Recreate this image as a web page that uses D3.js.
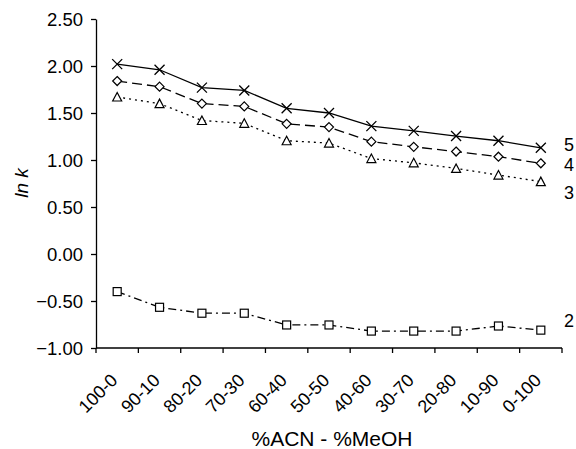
<!DOCTYPE html>
<html>
<head>
<meta charset="utf-8">
<script src="https://cdn.jsdelivr.net/npm/d3@7"></script>
<style>
  html, body { margin: 0; padding: 0; background: #fff; }
  svg { display: block; }
  text { font-family: Arial, "Liberation Sans", sans-serif; fill: #000; }
</style>
</head>
<body>
<svg id="chart" width="576" height="449"></svg>
<script>
// Mobile phase composition (%ACN - %MeOH)
const categories = ["100-0", "90-10", "80-20", "70-30", "60-40", "50-50", "40-60", "30-70", "20-80", "10-90", "0-100"];

// ln k for each solute
const series5 = [2.02, 1.96, 1.77, 1.74, 1.55, 1.50, 1.36, 1.31, 1.255, 1.205, 1.13];
const series4 = [1.84, 1.78, 1.60, 1.57, 1.385, 1.35, 1.195, 1.14, 1.09, 1.035, 0.965];
const series3 = [1.67, 1.60, 1.42, 1.39, 1.205, 1.18, 1.015, 0.97, 0.91, 0.84, 0.77];
const series2 = [-0.40, -0.567, -0.63, -0.63, -0.755, -0.755, -0.82, -0.82, -0.82, -0.766, -0.81];

const seriesNames = ["5", "4", "3", "2"];
const yTicks = [-1.0, -0.5, 0.0, 0.5, 1.0, 1.5, 2.0, 2.5];

const svg = d3.select("#chart");
const plotLeft = 96, plotRight = 562, plotTop = 19, plotBottom = 348;

const x = d3.scaleBand().domain(categories).range([plotLeft, plotRight]).padding(0);
const y = d3.scaleLinear().domain([-1, 2.5]).range([plotBottom, plotTop]);

// Y axis
const yAxis = svg.append("g")
  .attr("transform", `translate(${plotLeft},0)`)
  .call(d3.axisLeft(y).tickValues(yTicks).tickFormat(d3.format(".2f")).tickSize(5).tickSizeOuter(0));
yAxis.selectAll("text").attr("font-size", 18.5).attr("x", -13).attr("dy", "0.36em");
yAxis.selectAll("line, path").attr("stroke", "#000").attr("stroke-width", 1.3);

// X axis: ticks at category boundaries
const xAxisG = svg.append("g").attr("transform", `translate(0,${plotBottom})`);
xAxisG.append("line")
  .attr("x1", plotLeft).attr("x2", plotRight)
  .attr("stroke", "#000").attr("stroke-width", 1.3);
const boundaries = categories.map(c => x(c)).concat([plotRight]);
xAxisG.selectAll("line.tick").data(boundaries).enter().append("line")
  .attr("class", "tick")
  .attr("x1", d => d).attr("x2", d => d)
  .attr("y1", 0).attr("y2", 5)
  .attr("stroke", "#000").attr("stroke-width", 1.3);
xAxisG.selectAll("text").data(categories).enter().append("text")
  .attr("transform", d => `translate(${x(d) + x.bandwidth() / 2 - 3},${29}) rotate(-45)`)
  .attr("text-anchor", "end")
  .attr("dy", "0.35em")
  .attr("font-size", 18)
  .text(d => d);

// Axis titles
svg.append("text")
  .attr("transform", `translate(28,183) rotate(-90)`)
  .attr("text-anchor", "middle")
  .attr("font-size", 19)
  .attr("font-style", "italic")
  .text("ln k");
svg.append("text")
  .attr("x", 332).attr("y", 446)
  .attr("text-anchor", "middle")
  .attr("font-size", 21)
  .text("%ACN - %MeOH");

const cx = c => x(c) + x.bandwidth() / 2;
const line = d3.line().x((d, i) => cx(categories[i])).y(d => y(d));

const defs = [
  { data: series5, dash: null, marker: "x" },
  { data: series4, dash: "10,5", marker: "diamond" },
  { data: series3, dash: "2,4", marker: "triangle" },
  { data: series2, dash: "8,4,2,4", marker: "square" }
];

defs.forEach((s, k) => {
  const g = svg.append("g");
  g.append("path")
    .datum(s.data)
    .attr("d", line)
    .attr("fill", "none")
    .attr("stroke", "#000")
    .attr("stroke-width", 1.3)
    .attr("stroke-dasharray", s.dash);

  const pts = g.selectAll("g.pt").data(s.data).enter().append("g")
    .attr("transform", (d, i) => `translate(${cx(categories[i])},${y(d)})`);

  if (s.marker === "x") {
    pts.append("path").attr("d", "M-5,-5L5,5M-5,5L5,-5")
      .attr("stroke", "#000").attr("stroke-width", 1.3).attr("fill", "none");
  } else if (s.marker === "diamond") {
    pts.append("path").attr("d", "M0,-4.5L4.5,0L0,4.5L-4.5,0Z")
      .attr("stroke", "#000").attr("stroke-width", 1.2).attr("fill", "#fff");
  } else if (s.marker === "triangle") {
    pts.append("path").attr("d", "M0,-4.5L4.5,4L-4.5,4Z")
      .attr("stroke", "#000").attr("stroke-width", 1.2).attr("fill", "#fff");
  } else {
    pts.append("rect").attr("x", -4).attr("y", -4).attr("width", 8).attr("height", 8)
      .attr("stroke", "#000").attr("stroke-width", 1.2).attr("fill", "#fff");
  }

  // Series label at the right end
  const last = s.data[s.data.length - 1];
  const offs = [-3, 1, 11, -10];
  svg.append("text")
    .attr("x", 564).attr("y", y(last) + offs[k])
    .attr("dy", "0.36em")
    .attr("font-size", 18)
    .text(seriesNames[k]);
});
</script>
</body>
</html>
